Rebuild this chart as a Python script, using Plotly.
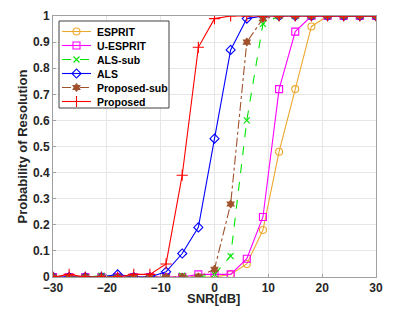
import plotly.graph_objects as go

snr = [-30, -27, -24, -21, -18, -15, -12, -9, -6, -3, 0, 3, 6, 9, 12, 15, 18, 21, 24, 27, 30]
esprit = [0, 0, 0, 0, 0, 0, 0, 0, 0, 0, 0, 0.01, 0.05, 0.18, 0.48, 0.72, 0.96, 1, 1, 1, 1]
u_esprit = [0, 0, 0, 0, 0, 0, 0, 0, 0, 0.01, 0.01, 0.01, 0.07, 0.23, 0.72, 0.94, 1, 1, 1, 1, 1]
als_sub = [0, 0, 0, 0.005, 0, 0, 0, 0, 0.005, 0, 0.01, 0.08, 0.60, 0.97, 1, 1, 1, 1, 1, 1, 1]
als = [0, 0, 0, 0, 0.01, 0, 0, 0.02, 0.09, 0.19, 0.53, 0.87, 0.99, 1, 1, 1, 1, 1, 1, 1, 1]
proposed_sub = [0, 0, 0, 0, 0, 0, 0, 0, 0, 0, 0.03, 0.28, 0.90, 0.99, 1, 1, 1, 1, 1, 1, 1]
proposed = [0, 0.01, 0, 0, 0, 0.01, 0.01, 0.05, 0.39, 0.88, 0.99, 1, 1, 1, 1, 1, 1, 1, 1, 1, 1]

names = ["ESPRIT", "U-ESPRIT", "ALS-sub", "ALS", "Proposed-sub", "Proposed"]
values = [esprit, u_esprit, als_sub, als, proposed_sub, proposed]
colors = ["#EDA82E", "#FF00FF", "#00E600", "#0000FF", "#A0522D", "#FF0000"]
dashes = ["solid", "solid", "dash", "solid", "dashdot", "solid"]
symbols = ["circle-open", "square-open", "x-thin-open", "diamond-open", "hexagram", "cross-thin-open"]
sizes = [7, 7, 6, 7, 6, 8]

OFF = 8  # page body margin of the browser
W, H = 415 - OFF, 312 - OFF
# plot area in screen pixels
PX0, PX1, PY0, PY1 = 53, 376, 16, 277
L, R, T, B = PX0 - OFF, W - (PX1 - OFF), PY0 - OFF, H - (PY1 - OFF)
font_family = "Liberation Sans, Arial, sans-serif"

fig = go.Figure()
for name, ys, col, dash, sym, size in zip(names, values, colors, dashes, symbols, sizes):
    fig.add_trace(go.Scatter(
        x=snr, y=ys, name=name, mode="lines+markers", showlegend=False,
        line=dict(color=col, width=1.1, dash=dash),
        marker=dict(symbol=sym, size=size, color=col, line=dict(color=col, width=1.1)),
    ))

# compact legend laid out in screen pixels on a hidden overlay axis
leg_x0, leg_x1, leg_y0, leg_y1 = 59, 169, 21, 108
item_y0, item_dy = 31.5, 14
line_a, line_b, text_x = 62, 91, 95
fig.add_trace(go.Scatter(
    x=[leg_x0, leg_x1, leg_x1, leg_x0, leg_x0], y=[leg_y0, leg_y0, leg_y1, leg_y1, leg_y0],
    xaxis="x2", yaxis="y2", mode="lines", fill="toself", fillcolor="white",
    line=dict(color="#404040", width=1), showlegend=False, hoverinfo="skip",
))
for i, (name, col, dash, sym, size) in enumerate(zip(names, colors, dashes, symbols, sizes)):
    yy = item_y0 + i * item_dy
    fig.add_trace(go.Scatter(
        x=[line_a, (line_a + line_b) / 2, line_b], y=[yy, yy, yy],
        xaxis="x2", yaxis="y2", mode="lines", showlegend=False, hoverinfo="skip",
        line=dict(color=col, width=1.1, dash=dash),
    ))
    fig.add_trace(go.Scatter(
        x=[(line_a + line_b) / 2], y=[yy],
        xaxis="x2", yaxis="y2", mode="markers", showlegend=False, hoverinfo="skip",
        marker=dict(symbol=sym, size=size, color=col, line=dict(color=col, width=1.1)),
    ))
    fig.add_annotation(x=text_x, y=yy, xref="x2", yref="y2", text=name, showarrow=False,
                       xanchor="left", yanchor="middle",
                       font=dict(size=10.5, family=font_family, color="#000000", weight="bold"))

pw, ph = PX1 - PX0, PY1 - PY0
fig.add_annotation(x=(213 - PX0) / pw, y=-(298 - PY1) / ph, xref="paper", yref="paper", text="SNR[dB]",
                   showarrow=False, xanchor="center", yanchor="middle",
                   font=dict(size=13, family=font_family, color="#262626", weight="bold"))
fig.add_annotation(x=(22 - PX0) / pw, y=0.5, xref="paper", yref="paper",
                   text="Probability of Resolution", textangle=-90,
                   showarrow=False, xanchor="center", yanchor="middle",
                   font=dict(size=13, family=font_family, color="#262626", weight="bold"))

fig.update_layout(
    width=W, height=H,
    margin=dict(l=L, r=R, t=T, b=B, autoexpand=False),
    paper_bgcolor="white", plot_bgcolor="white",
    font=dict(family=font_family, size=12, color="#262626"),
    showlegend=False,
    xaxis=dict(
        range=[-30, 30], tickvals=[-30, -20, -10, 0, 10, 20, 30], automargin=False,
        showgrid=True, gridcolor="#E6E6E6", gridwidth=1,
        showline=True, linecolor="#A0A0A0", linewidth=1, mirror=True, zeroline=False,
        ticks="inside", ticklen=3, tickcolor="#A0A0A0",
        tickfont=dict(size=12, weight="bold", color="#262626"),
    ),
    yaxis=dict(
        range=[0, 1], tickvals=[0, 0.1, 0.2, 0.3, 0.4, 0.5, 0.6, 0.7, 0.8, 0.9, 1],
        ticktext=["0", "0.1", "0.2", "0.3", "0.4", "0.5", "0.6", "0.7", "0.8", "0.9", "1"],
        automargin=False,
        showgrid=True, gridcolor="#E6E6E6", gridwidth=1,
        showline=True, linecolor="#A0A0A0", linewidth=1, mirror=True, zeroline=False,
        ticks="inside", ticklen=3, tickcolor="#A0A0A0",
        tickfont=dict(size=12, weight="bold", color="#262626"),
    ),
    xaxis2=dict(range=[PX0, PX1], overlaying="x", visible=False, fixedrange=True),
    yaxis2=dict(range=[PY1, PY0], overlaying="y", visible=False, fixedrange=True),
)

fig.write_html("out.html")
